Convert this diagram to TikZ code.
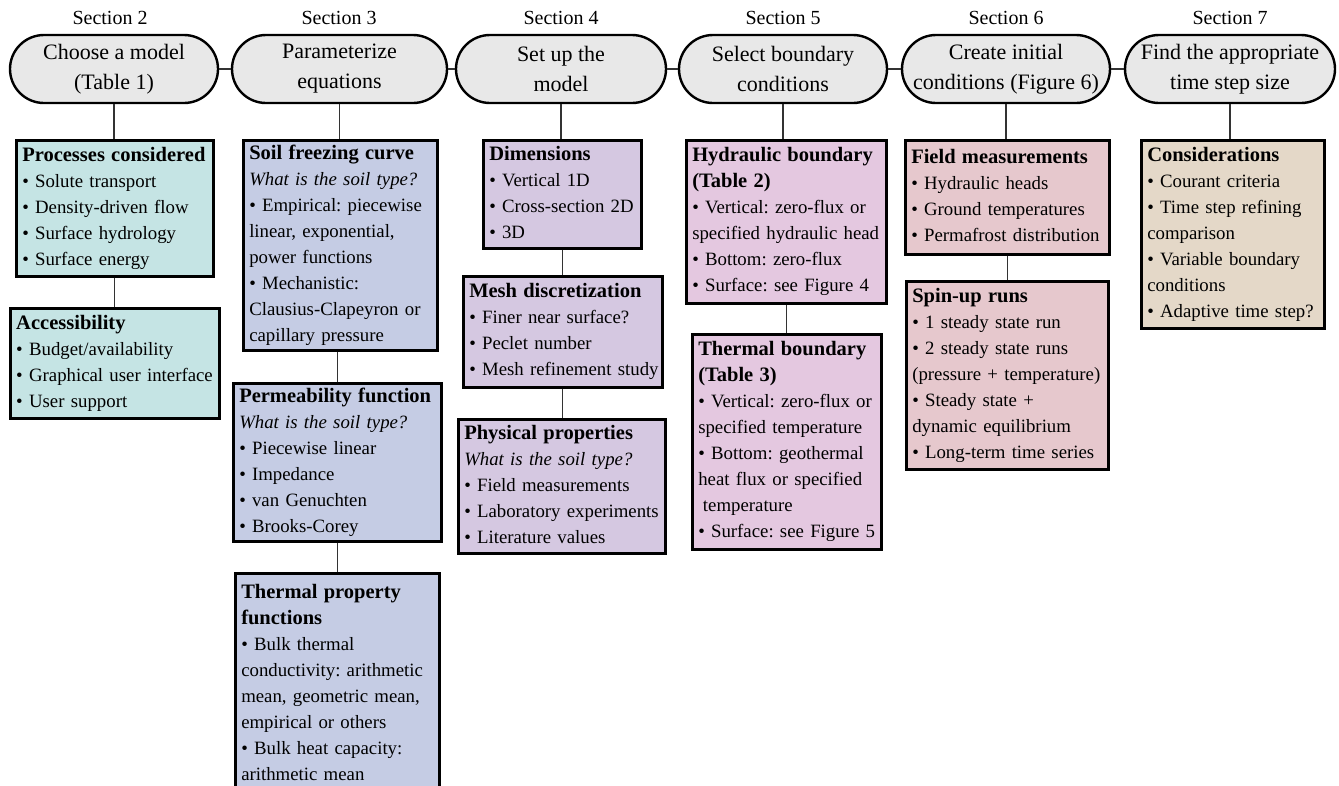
\documentclass[tikz,border=0pt]{standalone}
\usepackage{fontspec}
\setmainfont{Liberation Serif}
\frenchspacing
\definecolor{cA}{HTML}{C5E4E4}
\definecolor{cB}{HTML}{C5CCE4}
\definecolor{cC}{HTML}{D5C8E1}
\definecolor{cD}{HTML}{E4C8E0}
\definecolor{cE}{HTML}{E6C8CD}
\definecolor{cF}{HTML}{E4D8C8}
\definecolor{pillfill}{HTML}{E8E8E8}
\newcommand\ttl[1]{{\fontsize{20.5}{26}\selectfont\bfseries #1}}
\newcommand\bxt[1]{\begin{tabular}{@{}l@{}}#1\end{tabular}}
\begin{document}
\begin{tikzpicture}[x=1pt,y=-1pt,
  box/.style={draw=black, line width=2.5pt, anchor=north west, inner xsep=6pt, inner ysep=0pt, align=left, font=\fontsize{18.8}{26}\selectfont\frenchspacing},
  pill/.style={draw=black, line width=2.4pt, fill=pillfill, rounded corners=34pt, minimum height=68pt, align=center, inner sep=0pt, font=\fontsize{22}{30}\selectfont},
  seclabel/.style={font=\fontsize{20}{24}\selectfont, inner sep=0pt},
  conn/.style={line width=1.2pt, draw=black!80}]
\clip (0,0) rectangle (1339,785);
% section labels
\node[seclabel] (l2) at (110,18) {Section 2};
\node[seclabel] (l3) at (339,18) {Section 3};
\node[seclabel] (l4) at (561,18) {Section 4};
\node[seclabel] (l5) at (783,18) {Section 5};
\node[seclabel] (l6) at (1006,18) {Section 6};
\node[seclabel] (l7) at (1230,18) {Section 7};
% pills
\node[pill, minimum width=208pt] (s2) at (114,69) {Choose a model\\(Table 1)};
\node[pill, minimum width=215pt] (s3) at (339.5,69) {Parameterize\\equations};
\node[pill, minimum width=210pt] (s4) at (561,69) {Set up the\\model};
\node[pill, minimum width=208pt] (s5) at (783,69) {Select boundary\\conditions};
\node[pill, minimum width=208pt] (s6) at (1006,69) {Create initial\\conditions (Figure 6)};
\node[pill, minimum width=210pt] (s7) at (1230,69) {Find the appropriate\\time step size};
% boxes
\node[box, fill=cA, text width=185pt, minimum height=136pt] (proc) at (15,139)
  {\bxt{\ttl{Processes considered}\\• Solute transport\\• Density-driven flow\\• Surface hydrology\\• Surface energy}};
\node[box, fill=cA, text width=197pt, minimum height=110pt] (acc) at (9,307)
  {\bxt{\ttl{Accessibility}\\• Budget/availability\\• Graphical user interface\\• User support}};
\node[box, fill=cB, text width=182pt, minimum height=210pt] (sfc) at (242,139)
  {\bxt{\ttl{Soil freezing curve}\\\textit{What is the soil type?}\\• Empirical: piecewise\\linear, exponential,\\power functions\\• Mechanistic:\\Clausius-Clapeyron or\\capillary pressure}};
\node[box, fill=cB, text width=196pt, minimum height=158pt] (perm) at (232,382)
  {\bxt{\ttl{Permeability function}\\\textit{What is the soil type?}\\• Piecewise linear\\• Impedance\\• van Genuchten\\• Brooks-Corey}};
\node[box, fill=cB, text width=192pt, minimum height=222pt] (tpf) at (234,572)
  {\bxt{\ttl{Thermal property}\\\ttl{functions}\\• Bulk thermal\\conductivity: arithmetic\\mean, geometric mean,\\empirical or others\\• Bulk heat capacity:\\arithmetic mean}};
\node[box, fill=cC, text width=146pt, minimum height=108pt] (dims) at (482,139)
  {\bxt{\ttl{Dimensions}\\• Vertical 1D\\• Cross-section 2D\\• 3D}};
\node[box, fill=cC, text width=187pt, minimum height=111pt] (mesh) at (462,275)
  {\bxt{\ttl{Mesh discretization}\\• Finer near surface?\\• Peclet number\\• Mesh refinement study}};
\node[box, fill=cC, text width=195pt, minimum height=134pt] (phys) at (457,418)
  {\bxt{\ttl{Physical properties}\\\textit{What is the soil type?}\\• Field measurements\\• Laboratory experiments\\• Literature values}};
\node[box, fill=cD, text width=188pt, minimum height=163pt] (hyd) at (685,139)
  {\bxt{\ttl{Hydraulic boundary}\\\ttl{(Table 2)}\\• Vertical: zero-flux or\\specified hydraulic head\\• Bottom: zero-flux\\• Surface: see Figure 4}};
\node[box, fill=cD, text width=177pt, minimum height=215pt] (thb) at (691,333)
  {\bxt{\ttl{Thermal boundary}\\\ttl{(Table 3)}\\• Vertical: zero-flux or\\specified temperature\\• Bottom: geothermal\\heat flux or specified\\\hspace*{0.25em}temperature\\• Surface: see Figure 5}};
\node[box, fill=cE, text width=192pt, minimum height=114pt] (field) at (904,139)
  {\bxt{\ttl{Field measurements}\\• Hydraulic heads\\• Ground temperatures\\• Permafrost distribution}};
\node[box, fill=cE, text width=190pt, minimum height=188pt] (spin) at (905,280)
  {\bxt{\ttl{Spin-up runs}\\• 1 steady state run\\• 2 steady state runs\\(pressure + temperature)\\• Steady state +\\dynamic equilibrium\\• Long-term time series}};
\node[box, fill=cF, text width=171pt, minimum height=188pt] (cons) at (1140,139)
  {\bxt{\ttl{Considerations}\\• Courant criteria\\• Time step refining\\comparison\\• Variable boundary\\conditions\\• Adaptive time step?}};
% connectors between pills
\draw[conn] (s2.east) -- (s3.west);
\draw[conn] (s3.east) -- (s4.west);
\draw[conn] (s4.east) -- (s5.west);
\draw[conn] (s5.east) -- (s6.west);
\draw[conn] (s6.east) -- (s7.west);
% vertical connectors
\draw[conn] (s2.south) -- (s2.south |- proc.north);
\draw[conn] (proc.south) -- (proc.south |- acc.north);
\draw[conn] (s3.south) -- (s3.south |- sfc.north);
\draw[conn] ([xshift=-3pt]sfc.south) -- ([xshift=-3pt]sfc.south |- perm.north);
\draw[conn] (perm.south) -- (perm.south |- tpf.north);
\draw[conn] (s4.south) -- (s4.south |- dims.north);
\draw[conn] (dims.south) -- (dims.south |- mesh.north);
\draw[conn] (mesh.south) -- (mesh.south |- phys.north);
\draw[conn] (s5.south) -- (s5.south |- hyd.north);
\draw[conn] (hyd.south) -- (hyd.south |- thb.north);
\draw[conn] (s6.south) -- (s6.south |- field.north);
\draw[conn] (field.south) -- (field.south |- spin.north);
\draw[conn] (s7.south) -- (s7.south |- cons.north);
\end{tikzpicture}
\end{document}
